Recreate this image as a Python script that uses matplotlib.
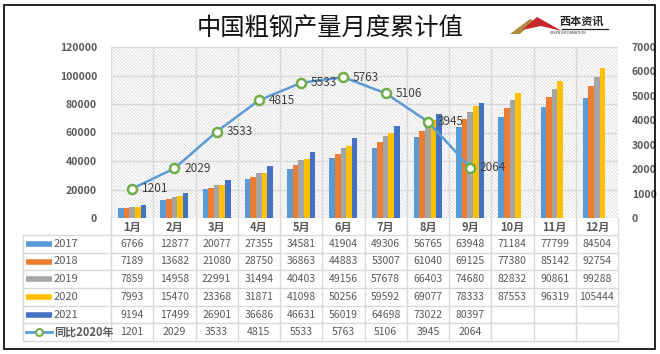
import matplotlib.pyplot as plt
import numpy as np
from matplotlib.patches import Rectangle, Polygon

plt.rcParams['font.family'] = ['Noto Sans CJK SC', 'DejaVu Sans']
plt.rcParams['hatch.linewidth'] = 0.5

months = ['1月', '2月', '3月', '4月', '5月', '6月', '7月', '8月', '9月', '10月', '11月', '12月']
years = ['2017', '2018', '2019', '2020', '2021']
y2017 = [6766, 12877, 20077, 27355, 34581, 41904, 49306, 56765, 63948, 71184, 77799, 84504]
y2018 = [7189, 13682, 21080, 28750, 36863, 44883, 53007, 61040, 69125, 77380, 85142, 92754]
y2019 = [7859, 14958, 22991, 31494, 40403, 49156, 57678, 66403, 74680, 82832, 90861, 99288]
y2020 = [7993, 15470, 23368, 31871, 41098, 50256, 59592, 69077, 78333, 87553, 96319, 105444]
y2021 = [9194, 17499, 26901, 36686, 46631, 56019, 64698, 73022, 80397]
diff = [1201, 2029, 3533, 4815, 5533, 5763, 5106, 3945, 2064]
line_name = '同比2020年'

series = [y2017, y2018, y2019, y2020, y2021]
colors = ['#5B9BD5', '#ED7D31', '#A5A5A5', '#FFC000', '#4472C4']
grid_c = '#d9d9d9'
txt_c = '#595959'

W, H = 660, 354
fig = plt.figure(figsize=(6.6, 3.54), dpi=100)
fig.patch.set_facecolor('white')

def fx(px):
    return px / W

def fy(py):
    return 1 - py / H

# outer frame
fig.add_artist(Rectangle((fx(4), fy(349)), fx(651), (349 - 5) / H, transform=fig.transFigure,
                         fill=False, edgecolor='black', linewidth=1.2))

L, R, T, B = 111, 618, 47, 218
ax = fig.add_axes([fx(L), fy(B), fx(R - L), (B - T) / H])
ax.set_xlim(-0.5, 11.5)
ax.set_ylim(0, 120000)
ax.add_patch(Rectangle((0, 0), 1, 1, transform=ax.transAxes, facecolor='white',
                       edgecolor='#d4d4d4', hatch='\\\\\\\\\\\\\\\\\\\\', linewidth=0, zorder=0))

x = np.arange(len(months))
w = 0.133
for i, (vals, c) in enumerate(zip(series, colors)):
    ax.bar(x[:len(vals)] + (i - 2) * w, vals, width=w, color=c, zorder=3, label=years[i])

ax.set_yticks(np.arange(0, 120001, 20000))
ax.yaxis.grid(True, color=grid_c, linewidth=1, zorder=1)
for k in range(13):
    ax.axvline(k - 0.5, color=grid_c, linewidth=1, zorder=1)
ax.set_xticks([])
for s in ax.spines.values():
    s.set_visible(False)
ax.tick_params(axis='y', length=0, pad=10, labelsize=7.5, labelcolor=txt_c)
for lab in ax.get_yticklabels():
    lab.set_fontweight('bold')

ax2 = ax.twinx()
ax2.set_ylim(0, 7000)
ax2.set_yticks(np.arange(0, 7001, 1000))
ax2.tick_params(axis='y', length=0, pad=10, labelsize=7.5, labelcolor=txt_c)
for lab in ax2.get_yticklabels():
    lab.set_fontweight('bold')
for s in ax2.spines.values():
    s.set_visible(False)
ax2.plot(x[:len(diff)], diff, color='#5B9BD5', linewidth=1.8, marker='o', markersize=6.5,
         markerfacecolor='white', markeredgecolor='#70AD47', markeredgewidth=1.8, zorder=5)
for xi, v in zip(x, diff):
    ax2.annotate(str(v), (xi, v), xytext=(7, 0), textcoords='offset points', va='center',
                 ha='left', fontsize=8.5, color='#404040', zorder=6)

# data table
TB = 341
tax = fig.add_axes([fx(L), fy(TB), fx(R - L), (TB - B) / H])
tax.set_xlim(-0.5, 11.5)
tax.set_ylim(TB - B, 0)
tax.axis('off')
cat_h = 17
row_h = (TB - B - cat_h) / 6
leg_left = -0.5 - (L - 23) / ((R - L) / 12)

for k in range(13):
    tax.plot([k - 0.5, k - 0.5], [0, TB - B], color=grid_c, linewidth=1, clip_on=False)
tax.plot([leg_left, leg_left], [cat_h, TB - B], color=grid_c, linewidth=1, clip_on=False)
for r in range(7):
    yy = cat_h + r * row_h
    tax.plot([leg_left, 11.5], [yy, yy], color=grid_c, linewidth=1, clip_on=False)

for xi, m in zip(x, months):
    tax.text(xi, cat_h / 2 + 1, m, ha='center', va='center', fontsize=8, fontweight='bold',
             color=txt_c)

rows = series + [diff]
for r, vals in enumerate(rows):
    yc = cat_h + (r + 0.5) * row_h
    for xi, v in zip(x, vals):
        tax.text(xi, yc, str(v), ha='center', va='center', fontsize=7.5, color=txt_c)

unit = (R - L) / 12
kx0 = leg_left + 3 / unit
kx1 = leg_left + 29 / unit
for r in range(5):
    yc = cat_h + (r + 0.5) * row_h
    tax.plot([kx0, kx1], [yc, yc], color=colors[r], linewidth=4, solid_capstyle='butt',
             clip_on=False)
    tax.text(kx1 + 2 / unit, yc, years[r], ha='left', va='center', fontsize=8, color=txt_c)
yc = cat_h + 5.5 * row_h
tax.plot([kx0, kx1], [yc, yc], color='#5B9BD5', linewidth=2, clip_on=False)
tax.plot([(kx0 + kx1) / 2], [yc], marker='o', markersize=5, markerfacecolor='white',
         markeredgecolor='#70AD47', markeredgewidth=1.5, clip_on=False)
tax.text(kx1 + 2 / unit, yc, line_name, ha='left', va='center', fontsize=8,
         fontweight='bold', color=txt_c)

# title
fig.text(fx(330), fy(29), '中国粗钢产量月度累计值', ha='center', va='center', fontsize=17.5,
         fontweight='medium', color='#111111')

# logo
fig.add_artist(Polygon([(fx(510), fy(34)), (fx(530), fy(19)), (fx(545), fy(26)),
                        (fx(531), fy(23)), (fx(520), fy(34))],
                       closed=True, transform=fig.transFigure, facecolor='#b08840',
                       edgecolor='none'))
fig.add_artist(Polygon([(fx(522), fy(30)), (fx(537), fy(17)), (fx(562), fy(31)),
                        (fx(541), fy(26))],
                       closed=True, transform=fig.transFigure, facecolor='#c8262c',
                       edgecolor='none'))
fig.text(fx(582), fy(21.5), '西本资讯', ha='center', va='center', fontsize=8,
         fontweight='bold', color='#222222', style='italic')
fig.text(fx(568), fy(32.5), 'XIBEN INFORMATION', ha='center', va='center', fontsize=2.6,
         color='#333333')
fig.add_artist(plt.Line2D([fx(562), fx(608)], [fy(29), fy(29)], transform=fig.transFigure,
                          color='#222222', linewidth=0.9))

fig.savefig('out.png', dpi=100, facecolor='white')
